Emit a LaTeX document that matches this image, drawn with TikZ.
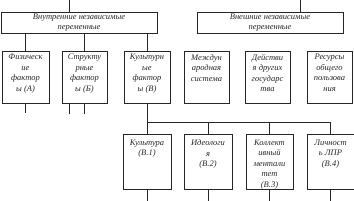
\documentclass[tikz,border=0pt]{standalone}
\usepackage{fontspec}
\setmainfont{Liberation Serif}
\begin{document}
\begin{tikzpicture}[x=1pt,y=-1pt,
  box/.style={draw=black!85, line width=0.7pt, rectangle, inner sep=0pt, outer sep=0pt},
  txt/.style={inner sep=0pt, align=center, font=\fontsize{8.5}{10.5}\selectfont\itshape, text=black!85},
  ln/.style={draw=black!85, line width=0.7pt}]
\useasboundingbox (0,0) rectangle (354,201);
% top boxes
\node[box, minimum width=156, minimum height=21] (L) at (79,22.5) {};
\node[txt] (Lt) at (L.center) {Внутренние независимые\\переменные};
\node[box, minimum width=146, minimum height=21] (R) at (270,22.5) {};
\node[txt] (Rt) at (R.center) {Внешние независимые\\переменные};
% row 1
\node[box, minimum width=47, minimum height=52] (b1) at (25.5,77) {};
\node[box, minimum width=45, minimum height=52] (b2) at (84.5,77) {};
\node[box, minimum width=46, minimum height=52] (b3) at (147,77) {};
\node[box, minimum width=45, minimum height=52] (b4) at (206.5,77) {};
\node[box, minimum width=45, minimum height=52] (b5) at (267.5,77) {};
\node[box, minimum width=45, minimum height=52] (b6) at (329.5,77) {};
\node[txt, anchor=north] (b1t) at ([yshift=-3]b1.north) {Физическ\\ие\\фактор\\ы (А)};
\node[txt, anchor=north] (b2t) at ([yshift=-3]b2.north) {Структу\\рные\\фактор\\ы (Б)};
\node[txt, anchor=north] (b3t) at ([yshift=-3]b3.north) {Культурн\\ые\\фактор\\ы (В)};
\node[txt, anchor=north] (b4t) at ([yshift=-3]b4.north) {Междун\\ародная\\система};
\node[txt, anchor=north] (b5t) at ([yshift=-3]b5.north) {Действи\\я других\\государс\\тва};
\node[txt, anchor=north] (b6t) at ([yshift=-3]b6.north) {Ресурсы\\общего\\пользова\\ния};
% row 2
\node[box, minimum width=48, minimum height=55] (ca) at (147,161.5) {};
\node[box, minimum width=48, minimum height=55] (cb) at (208,161.5) {};
\node[box, minimum width=47, minimum height=55] (cc) at (269.5,161.5) {};
\node[box, minimum width=47, minimum height=55] (cd) at (330.5,161.5) {};
\node[txt, anchor=north] (cat) at ([yshift=-5.5]ca.north) {Культура\\(В.1)};
\node[txt, anchor=north] (cbt) at ([yshift=-5.5]cb.north) {Идеологи\\я\\(В.2)};
\node[txt, anchor=north] (cct) at ([yshift=-5.5]cc.north) {Коллект\\ивный\\ментали\\тет\\(В.3)};
\node[txt, anchor=north] (cdt) at ([yshift=-5.5]cd.north) {Личност\\ь ЛПР\\(В.4)};
% top connectors
\coordinate (topL) at (110,0);
\coordinate (topR) at (258,0);
\draw[ln] ([xshift=-10]L.north) |- ([yshift=2]topL) -- (topL);
\draw[ln] ([xshift=30]R.north) |- ([yshift=2]topR) -- (topR);
% left box to row 1
\draw[ln] (b1.north) -- (b1.north |- L.south);
\draw[ln] (b2.north) -- (b2.north |- L.south);
\draw[ln] (b3.north) -- (b3.north |- L.south);
% stubs below row 1
\coordinate (s1) at (25.5,113);
\coordinate (s2a) at (69,114);
\coordinate (s2b) at (84.5,114);
\draw[ln] (b1.south) -- (s1);
\draw[ln] (s2a |- b2.south) -- (s2a);
\draw[ln] (b2.south) -- (s2b);
% b3 to row 2
\coordinate (bus) at (147,122);
\draw[ln] (b3.south) -- (ca.north);
\draw[ln] (bus) -| (cd.north);
\draw[ln] (cb.north) -- (cb.north |- bus);
\draw[ln] (cc.north) -- (cc.north |- bus);
% stubs below row 2
\coordinate (ea) at (147,201);
\coordinate (eb) at (208,201);
\coordinate (ec) at (269.5,201);
\coordinate (ed) at (330.5,201);
\draw[ln] (ca.south) -- (ea);
\draw[ln] (cb.south) -- (eb);
\draw[ln] (cc.south) -- (ec);
\draw[ln] (cd.south) -- (ed);
\end{tikzpicture}
\end{document}
